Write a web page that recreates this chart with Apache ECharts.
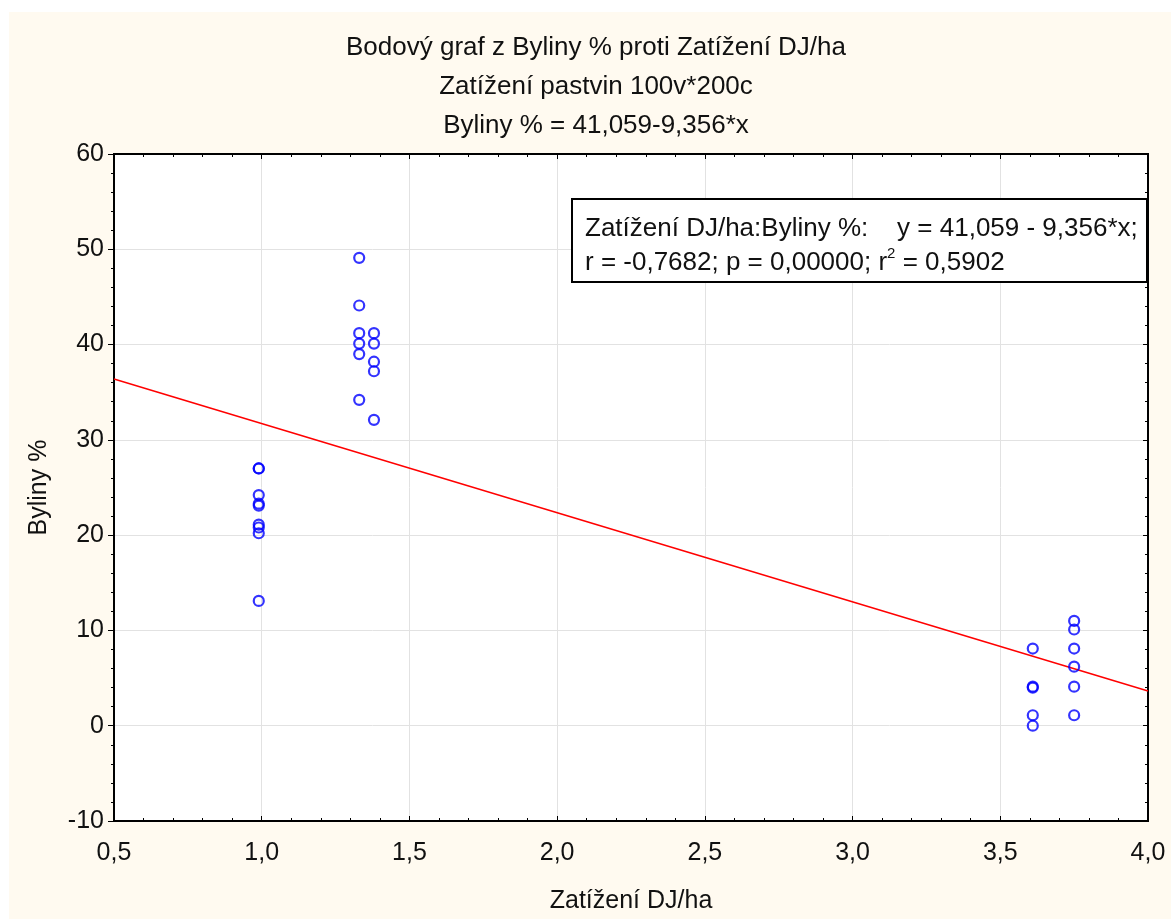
<!DOCTYPE html>
<html>
<head>
<meta charset="utf-8">
<script src="https://cdn.jsdelivr.net/npm/echarts@6/dist/echarts.min.js"></script>
<style>html,body{margin:0;padding:0;background:#fff}#c{width:1171px;height:919px}</style>
</head>
<body>
<div id="c"></div>
<script>
const titleLines = ['Bodový graf z Byliny % proti Zatížení DJ/ha', 'Zatížení pastvin 100v*200c', 'Byliny % = 41,059-9,356*x'];
const xName = 'Zatížení DJ/ha';
const yName = 'Byliny %';
const xValues = [0.99,0.99,0.99,0.99,0.99,0.99,0.99,0.99,0.99,
  1.33,1.33,1.33,1.33,1.33,1.33,
  1.38,1.38,1.38,1.38,1.38,
  3.61,3.61,3.61,3.61,3.61,
  3.75,3.75,3.75,3.75,3.75,3.75];
const yValues = [27,27,24.2,23.1,23.3,21.1,20.8,20.2,13.1,
  49.1,44.1,41.2,40.1,39.0,34.2,
  41.2,40.1,38.2,37.2,32.1,
  8.1,4.1,4.0,1.1,0.0,
  11.0,10.1,8.1,6.2,4.1,1.1];
const intercept = 41.059;
const slope = -9.356;
const xRange = [0.5, 4.0];
const yRange = [-10, 60];
const legendLines = ['Zatížení DJ/ha:Byliny %:    y = 41,059 - 9,356*x;', 'r = -0,7682; p = 0,00000; r{sup|2} = 0,5902'];

const points = xValues.map((x, i) => [x, yValues[i]]);
const fitLine = xRange.map(x => [x, intercept + slope * x]);
const FONT = '"Liberation Sans", Arial, sans-serif';
const fmtX = v => v.toFixed(1).replace('.', ',');
const txt = {fontSize: 25, fontFamily: FONT, color: '#111'};

const chart = echarts.init(document.getElementById('c'), null, {renderer: 'canvas'});
chart.setOption({
  backgroundColor: '#ffffff',
  animation: false,
  title: titleLines.map((t, i) => ({
    text: t, left: 596, textAlign: 'center', top: 35 + i * 39, padding: 0,
    textStyle: {fontSize: 26, fontWeight: 'normal', fontFamily: FONT, color: '#111'}
  })),
  graphic: [
    {type: 'rect', z: -10, silent: true, shape: {x: 9, y: 12, width: 1162, height: 907}, style: {fill: '#fffaf0'}},
    {type: 'rect', z: 50, silent: true, shape: {x: 572, y: 199, width: 575, height: 83}, style: {fill: '#fff', stroke: '#000', lineWidth: 2}},
    {type: 'text', z: 51, silent: true, x: 585, y: 212, style: {text: legendLines.join('\n'), font: '26px ' + FONT, fill: '#111', lineHeight: 34,
      rich: {sup: {fontSize: 15, verticalAlign: 'top', lineHeight: 20, fontFamily: FONT, fill: '#111', padding: [0,0,12,0]}}}}
  ],
  grid: {left: 114, top: 154, right: 23, bottom: 97, show: true, backgroundColor: '#ffffff', borderColor: '#000', borderWidth: 2},
  xAxis: [
    {type: 'value', min: xRange[0], max: xRange[1], interval: 0.5, position: 'bottom',
      name: xName, nameLocation: 'middle', nameGap: 68, nameTextStyle: txt,
      axisLine: {show: true, onZero: false, lineStyle: {color: '#000', width: 2}},
      axisTick: {show: true, inside: true, length: 5, lineStyle: {color: '#000'}},
      minorTick: {show: true, splitNumber: 5, length: 3, lineStyle: {color: '#000'}},
      splitLine: {show: true, lineStyle: {color: '#e2e2e2', width: 1}},
      axisLabel: Object.assign({formatter: fmtX, margin: 20, showMinLabel: true, showMaxLabel: true}, txt)},
    {type: 'value', min: xRange[0], max: xRange[1], interval: 0.5, position: 'top',
      axisLine: {show: true, onZero: false, lineStyle: {color: '#000', width: 2}},
      axisTick: {show: true, inside: true, length: 5, lineStyle: {color: '#000'}},
      minorTick: {show: true, splitNumber: 5, length: 3, lineStyle: {color: '#000'}},
      splitLine: {show: false}, axisLabel: {show: false}}
  ],
  yAxis: [
    {type: 'value', min: yRange[0], max: yRange[1], interval: 10, position: 'left',
      name: yName, nameLocation: 'middle', nameGap: 62, nameRotate: 90, nameTextStyle: txt,
      axisLine: {show: true, onZero: false, lineStyle: {color: '#000', width: 2}},
      axisTick: {show: true, inside: false, length: 6, lineStyle: {color: '#000'}},
      minorTick: {show: true, splitNumber: 5, length: 3, lineStyle: {color: '#000'}},
      splitLine: {show: true, lineStyle: {color: '#e2e2e2', width: 1}},
      axisLabel: Object.assign({margin: 10}, txt)},
    {type: 'value', min: yRange[0], max: yRange[1], interval: 10, position: 'right',
      axisLine: {show: true, onZero: false, lineStyle: {color: '#000', width: 2}},
      axisTick: {show: true, inside: true, length: 5, lineStyle: {color: '#000'}},
      minorTick: {show: true, splitNumber: 5, length: 3, lineStyle: {color: '#000'}},
      splitLine: {show: false}, axisLabel: {show: false}}
  ],
  series: [
    {type: 'line', data: fitLine, showSymbol: false, symbol: 'none', lineStyle: {color: '#ff0000', width: 1.5}, z: 3, silent: true},
    {type: 'scatter', data: points, symbol: 'circle', symbolSize: 10,
      itemStyle: {color: 'rgba(255,255,255,0)', borderColor: '#0000ff', borderWidth: 2.2}, z: 4}
  ]
});
</script>
</body>
</html>
